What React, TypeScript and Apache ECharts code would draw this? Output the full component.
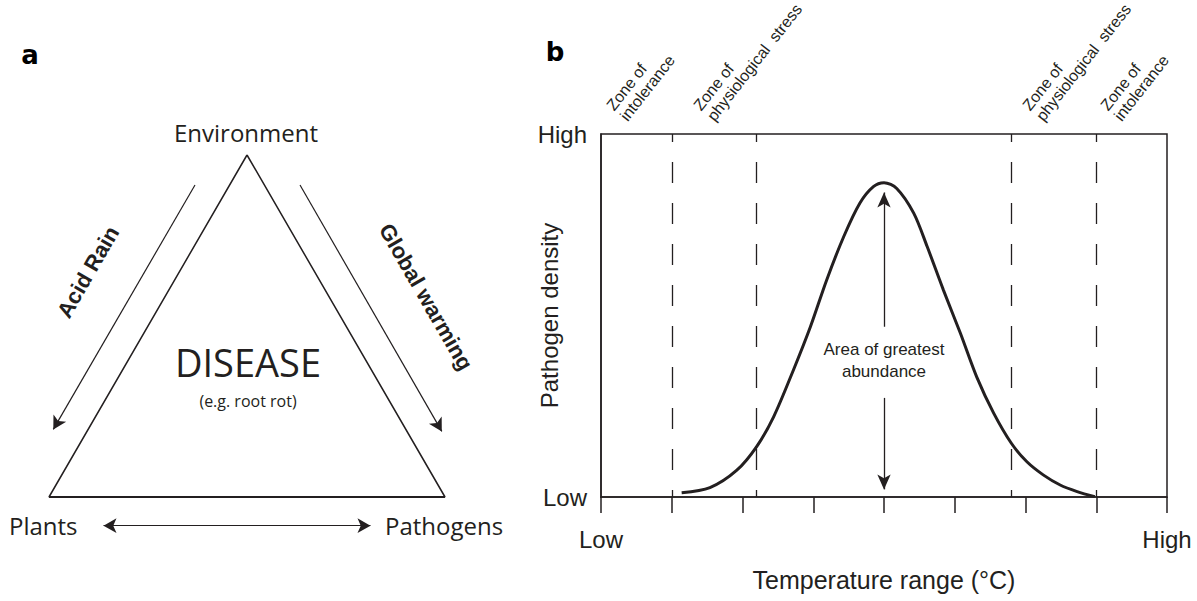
import React, { useEffect, useRef } from "react";
import * as echarts from "echarts";

// ---------- Panel b data ----------
const X_TICK_LABELS = ["Low", "", "", "", "", "", "", "", "High"];
const Y_TICK_LABELS = ["Low", "High"];
const CURVE_X = [1.14, 1.54, 1.92, 2.2, 2.44, 2.72, 2.96, 3.19, 3.43, 3.66, 3.85, 4.0, 4.18, 4.42, 4.61, 4.84, 5.08, 5.31, 5.55, 5.8, 6.02, 6.25, 6.49, 6.73, 6.98];
const CURVE_Y = [0.012, 0.026, 0.074, 0.139, 0.221, 0.35, 0.469, 0.598, 0.717, 0.81, 0.855, 0.866, 0.85, 0.782, 0.69, 0.57, 0.451, 0.331, 0.231, 0.148, 0.097, 0.061, 0.033, 0.015, 0.001];
const ZONE_BOUNDS = [1, 2.2, 5.8, 7];
const ZONE_LABELS = ["Zone of\nintolerance", "Zone of\nphysiological  stress", "Zone of\nphysiological  stress", "Zone of\nintolerance"];
const PEAK_X = 4;
const ARROW_UP = [0.469, 0.839];
const ARROW_DOWN = [0.273, 0.021];

// ---------- Panel a diagram (diagram units) ----------
const TRIANGLE_X = [247, 49, 445, 247];
const TRIANGLE_Y = [155, 497, 497, 155];
const ACID_RAIN_ARROW = [[195, 185], [53.3, 429.4]];
const WARMING_ARROW = [[300, 185], [441.8, 431.4]];
const PLANT_PATHOGEN_ARROW = [[103.5, 525.7], [370.5, 525.7]];

const INK = "#231f20";
const SANS_A = "'Open Sans', sans-serif";
const SANS_B = "'Liberation Sans', Arial, sans-serif";

export default function App() {
  const ref = useRef<HTMLDivElement>(null);
  useEffect(() => {
    if (!ref.current) return;
    const chart = echarts.init(ref.current, undefined, { renderer: "svg" });

    const zoneAnchors = [
      [630, 124],
      [717, 124],
      [1046, 124],
      [1124, 124],
    ];

    const option: any = {
      animation: false,
      backgroundColor: "#ffffff",
      grid: [
        { left: 601, top: 134, width: 566, height: 363, show: true, borderColor: INK, borderWidth: 1.5, backgroundColor: "transparent" },
        { left: 0, top: 0, width: 600, height: 601, show: false },
      ],
      xAxis: [
        {
          gridIndex: 0,
          type: "value",
          min: 0,
          max: 8,
          interval: 1,
          axisLine: { show: true, lineStyle: { color: INK, width: 1.5 } },
          axisTick: { show: true, inside: false, length: 16, lineStyle: { color: INK, width: 1.5 } },
          splitLine: { show: false },
          axisLabel: {
            show: true,
            showMinLabel: true,
            showMaxLabel: true,
            margin: 30,
            color: INK,
            fontFamily: SANS_B,
            fontSize: 24,
            formatter: (v: number) => X_TICK_LABELS[Math.round(v)] ?? "",
          },
          name: "Temperature range (°C)",
          nameLocation: "middle",
          nameGap: 70,
          nameMoveOverlap: false,
          nameTextStyle: { color: INK, fontFamily: SANS_B, fontSize: 25 },
        },
        { gridIndex: 1, type: "value", min: 0, max: 600, show: false },
      ],
      yAxis: [
        {
          gridIndex: 0,
          type: "value",
          min: 0,
          max: 1,
          interval: 1,
          axisLine: { show: true, lineStyle: { color: INK, width: 1.5 } },
          axisTick: { show: false },
          splitLine: { show: false },
          axisLabel: {
            show: true,
            margin: 14,
            color: INK,
            fontFamily: SANS_B,
            fontSize: 24,
            formatter: (v: number) => Y_TICK_LABELS[Math.round(v)] ?? "",
          },
          name: "Pathogen density",
          nameLocation: "middle",
          nameGap: 40,
          nameRotate: 90,
          nameMoveOverlap: false,
          nameTextStyle: { color: INK, fontFamily: SANS_B, fontSize: 24 },
        },
        { gridIndex: 1, type: "value", min: 0, max: 601, inverse: true, show: false },
      ],
      series: [
        {
          name: "Pathogen density curve",
          type: "line",
          xAxisIndex: 0,
          yAxisIndex: 0,
          data: CURVE_X.map((x, i) => [x, CURVE_Y[i]]),
          smooth: 0.3,
          showSymbol: false,
          symbol: "none",
          lineStyle: { color: INK, width: 3 },
          silent: true,
          markLine: {
            silent: true,
            symbol: ["none", "none"],
            label: { show: false },
            lineStyle: { color: INK, width: 1.3, type: [21, 20], dashOffset: 14 },
            data: [
              ...ZONE_BOUNDS.map((b) => ({ xAxis: b })),
              [
                { coord: [PEAK_X, ARROW_UP[0]], symbol: "none", lineStyle: { type: "solid", width: 1.3, color: INK } },
                { coord: [PEAK_X, ARROW_UP[1]], symbol: "arrow", symbolSize: [10, 15], lineStyle: { type: "solid", width: 1.3, color: INK } },
              ],
              [
                { coord: [PEAK_X, ARROW_DOWN[0]], symbol: "none", lineStyle: { type: "solid", width: 1.3, color: INK } },
                { coord: [PEAK_X, ARROW_DOWN[1]], symbol: "arrow", symbolSize: [10, 15], lineStyle: { type: "solid", width: 1.3, color: INK } },
              ],
            ],
          },
        },
        {
          name: "Disease triangle",
          type: "line",
          xAxisIndex: 1,
          yAxisIndex: 1,
          data: TRIANGLE_X.map((x, i) => [x, TRIANGLE_Y[i]]),
          showSymbol: false,
          symbol: "none",
          lineStyle: { color: INK, width: 1.5 },
          silent: true,
          markLine: {
            silent: true,
            symbol: ["none", "arrow"],
            symbolSize: [11, 13],
            label: { show: false },
            lineStyle: { color: INK, width: 1.2, type: "solid" },
            data: [
              [{ coord: ACID_RAIN_ARROW[0] }, { coord: ACID_RAIN_ARROW[1] }],
              [{ coord: WARMING_ARROW[0] }, { coord: WARMING_ARROW[1] }],
              [
                { coord: PLANT_PATHOGEN_ARROW[0], symbol: "arrow" },
                { coord: PLANT_PATHOGEN_ARROW[1], symbol: "arrow" },
              ],
            ],
          },
        },
        {
          name: "Triangle base",
          type: "line",
          xAxisIndex: 1,
          yAxisIndex: 1,
          data: [[TRIANGLE_X[1], TRIANGLE_Y[1]], [TRIANGLE_X[2], TRIANGLE_Y[2]]],
          showSymbol: false,
          symbol: "none",
          lineStyle: { color: INK, width: 2 },
          silent: true,
        },
      ],
      graphic: [
        // panel letters
        { type: "text", x: 30, y: 55, style: { text: "a", fill: "#000", font: `900 26px 'DejaVu Sans', sans-serif`, textAlign: "center", textVerticalAlign: "middle" } },
        { type: "text", x: 555, y: 52, style: { text: "b", fill: "#000", font: `900 26px 'DejaVu Sans', sans-serif`, textAlign: "center", textVerticalAlign: "middle" } },
        // panel a texts
        { type: "text", x: 246, y: 132, style: { text: "Environment", fill: INK, font: `400 24px ${SANS_A}`, textAlign: "center", textVerticalAlign: "middle" } },
        { type: "text", x: 248, y: 362, style: { text: "DISEASE", fill: INK, font: `400 38px ${SANS_A}`, textAlign: "center", textVerticalAlign: "middle" } },
        { type: "text", x: 248, y: 401, style: { text: "(e.g. root rot)", fill: INK, font: `400 16px ${SANS_A}`, textAlign: "center", textVerticalAlign: "middle" } },
        { type: "text", x: 9, y: 525, style: { text: "Plants", fill: INK, font: `400 24px ${SANS_A}`, textAlign: "left", textVerticalAlign: "middle" } },
        { type: "text", x: 385, y: 525, style: { text: "Pathogens", fill: INK, font: `400 24px ${SANS_A}`, textAlign: "left", textVerticalAlign: "middle" } },
        { type: "text", x: 88, y: 272, rotation: (60 * Math.PI) / 180, style: { text: "Acid Rain", fill: INK, font: `700 22px ${SANS_B}`, textAlign: "center", textVerticalAlign: "middle" } },
        { type: "text", x: 426, y: 297, rotation: (-60 * Math.PI) / 180, style: { text: "Global warming", fill: INK, font: `700 22px ${SANS_B}`, textAlign: "center", textVerticalAlign: "middle" } },
        // panel b annotations
        { type: "text", x: 884, y: 360, style: { text: "Area of greatest\nabundance", fill: INK, font: `400 17px ${SANS_B}`, lineHeight: 22, textAlign: "center", textVerticalAlign: "middle" } },
        ...ZONE_LABELS.map((t, i) => ({
          type: "text",
          x: zoneAnchors[i][0],
          y: zoneAnchors[i][1],
          rotation: (52 * Math.PI) / 180,
          style: { text: t, fill: INK, font: `400 16px ${SANS_B}`, lineHeight: 17, textAlign: "left", textVerticalAlign: "bottom" },
        })),
      ],
    };

    chart.setOption(option);
    return () => chart.dispose();
  }, []);

  return <div ref={ref} style={{ position: "fixed", left: 0, top: 0, width: 1197, height: 601, background: "#fff" }} />;
}
